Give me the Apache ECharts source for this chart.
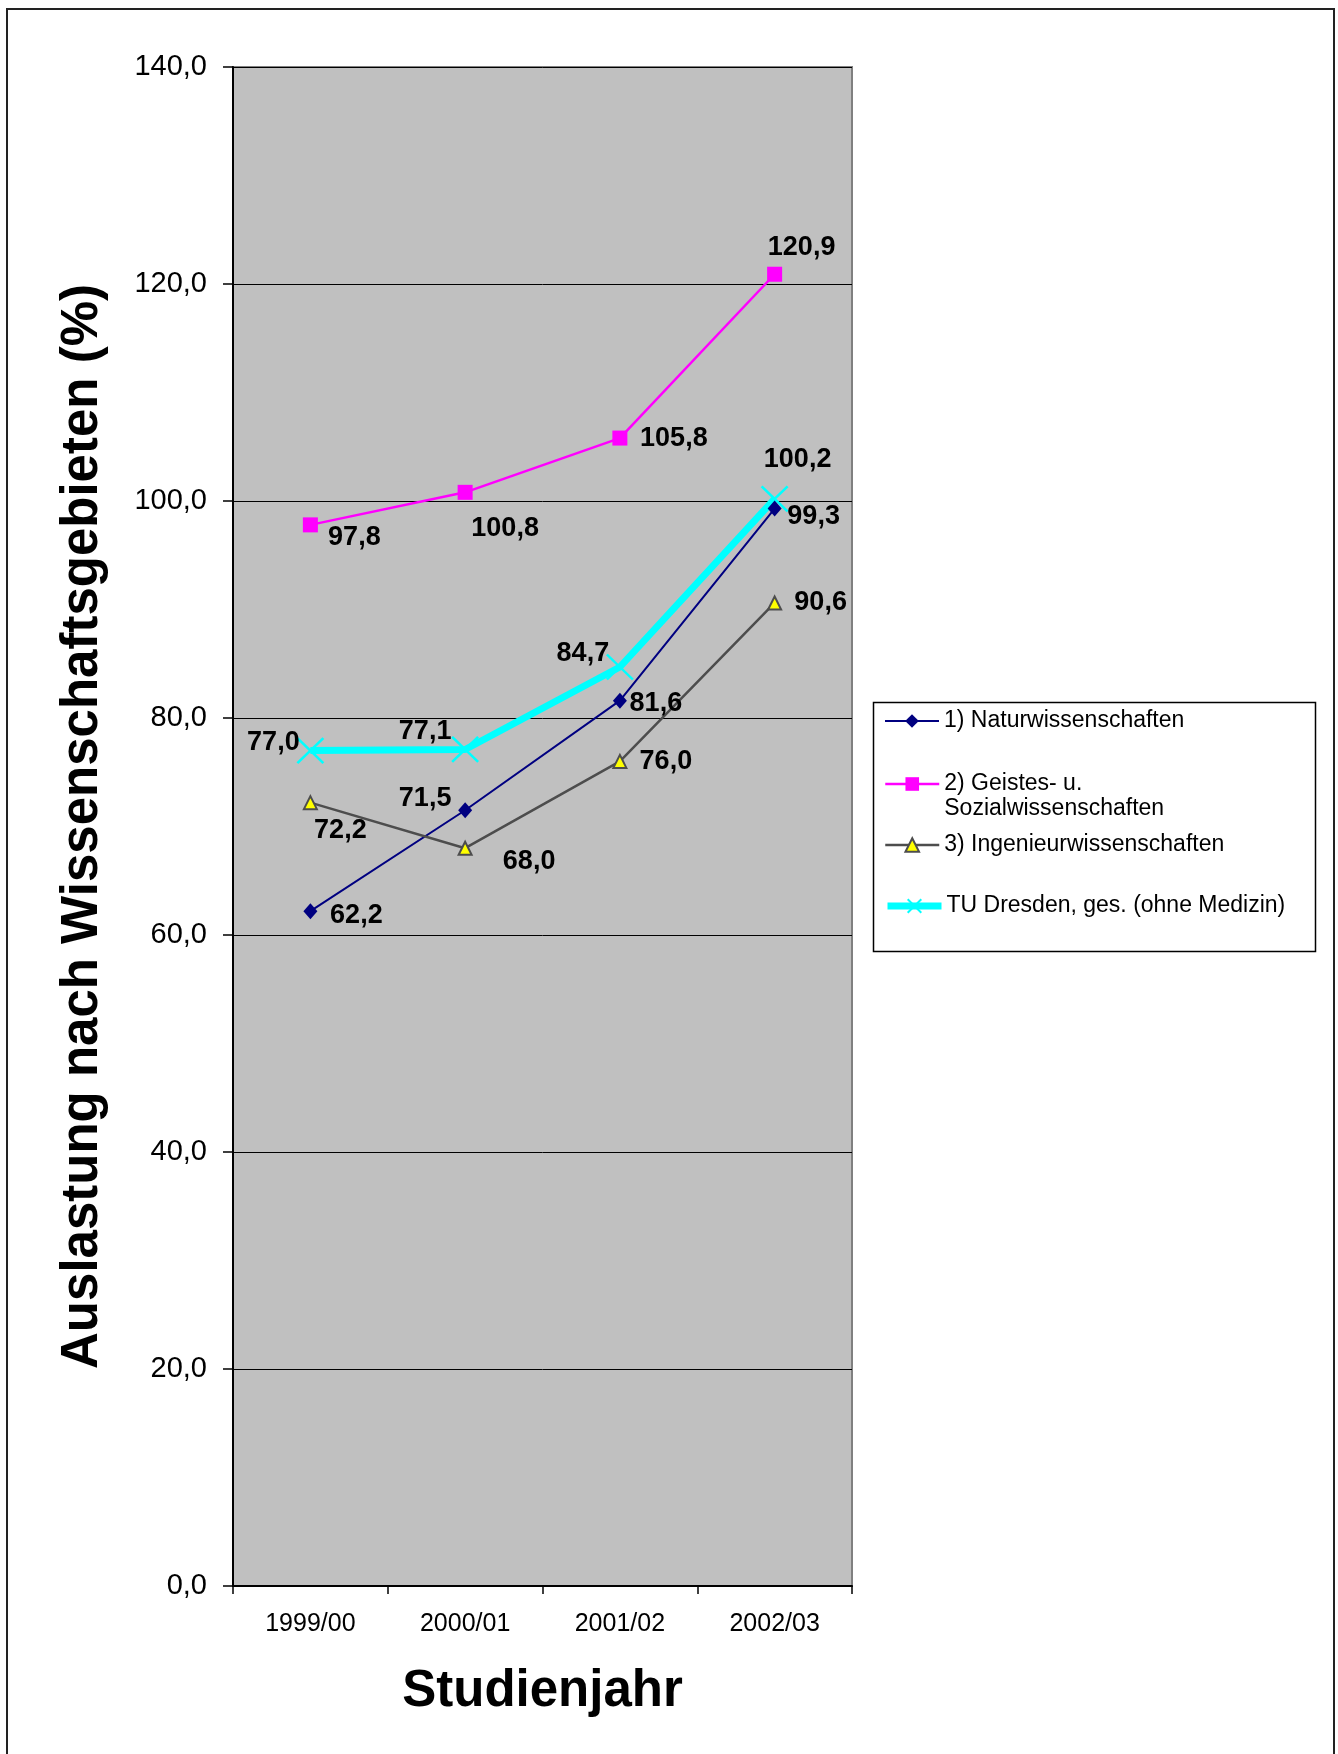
<!DOCTYPE html>
<html>
<head>
<meta charset="utf-8">
<script src="https://cdn.jsdelivr.net/npm/echarts@6/dist/echarts.min.js"></script>
<style>
html,body{margin:0;padding:0;background:#fff;}
#chart{width:1338px;height:1754px;}
</style>
</head>
<body>
<div id="chart"></div>
<script>
// ---- data ----
const categories = ['1999/00', '2000/01', '2001/02', '2002/03'];
const seriesNames = [
  '1) Naturwissenschaften',
  '2) Geistes- u. Sozialwissenschaften',
  '3) Ingenieurwissenschaften',
  'TU Dresden, ges. (ohne Medizin)'
];
const naturValues = [62.2, 71.5, 81.6, 99.3];
const geistesValues = [97.8, 100.8, 105.8, 120.9];
const ingenieurValues = [72.2, 68.0, 76.0, 90.6];
const tudValues = [77.0, 77.1, 84.7, 100.2];
const yTicks = [0, 20, 40, 60, 80, 100, 120, 140];
const yAxisTitle = 'Auslastung nach Wissenschaftsgebieten (%)';
const xAxisTitle = 'Studienjahr';

// ---- label placement (styling, not data) ----
const offsNatur = [[46,4],[-40,-12],[36,3],[39,8]];
const offsGeistes = [[44,13],[40,36],[54,0],[27,-27]];
const offsIng = [[30,28],[64,13],[46,0],[46,0]];
const offsTud = [[-37,-8],[-40,-18],[-37,-13],[23,-39]];

const FONT = '"Liberation Sans", Arial, sans-serif';
const fmt = v => Number(v).toFixed(1).replace('.', ',');

function items(vals, offs) {
  return vals.map((v, i) => ({
    value: v,
    label: { offset: offs[i] }
  }));
}
const baseLabel = {
  show: true,
  position: 'inside',
  color: '#000',
  fontFamily: FONT,
  fontWeight: 'bold',
  fontSize: 27,
  formatter: p => fmt(p.value)
};

const chart = echarts.init(document.getElementById('chart'), null, {renderer: 'canvas'});

const legendCommon = {
  orient: 'vertical',
  left: 884,
  padding: 0,
  itemWidth: 54,
  itemHeight: 17,
  itemGap: 0,
  lineStyle: { width: 'inherit' },
  textStyle: { fontFamily: FONT, fontSize: 23, color: '#000', lineHeight: 25 },
  selectedMode: false
};

const option = {
  animation: false,
  backgroundColor: '#fff',
  grid: {
    left: 233, top: 67, width: 619, height: 1519,
    show: true, backgroundColor: '#C0C0C0', borderColor: '#808080', borderWidth: 2
  },
  legend: [
    Object.assign({}, legendCommon, { top: 708.5, data: [seriesNames[0]] }),
    Object.assign({}, legendCommon, {
      top: 746.5, data: [seriesNames[1]],
      formatter: () => ' \n2) Geistes- u.\nSozialwissenschaften'
    }),
    Object.assign({}, legendCommon, { top: 832.5, data: [seriesNames[2]] }),
    Object.assign({}, legendCommon, { top: 893.5, data: [seriesNames[3]] })
  ],
  xAxis: {
    type: 'category',
    data: categories,
    boundaryGap: true,
    axisLine: { lineStyle: { color: '#000', width: 2 } },
    axisTick: { show: true, length: 8, lineStyle: { color: '#000', width: 1.5 } },
    axisLabel: { fontFamily: FONT, fontSize: 25, color: '#000', margin: 26 },
    name: xAxisTitle,
    nameLocation: 'middle',
    nameGap: 80,
    nameTextStyle: { fontFamily: FONT, fontSize: 51, fontWeight: 'bold', color: '#000' },
    splitLine: { show: false }
  },
  yAxis: {
    type: 'value',
    min: yTicks[0],
    max: yTicks[yTicks.length - 1],
    interval: yTicks[1] - yTicks[0],
    axisLine: { show: true, lineStyle: { color: '#000', width: 2 } },
    axisTick: { show: true, length: 10, lineStyle: { color: '#000', width: 1.5 } },
    axisLabel: { fontFamily: FONT, fontSize: 29, color: '#000', margin: 26, formatter: v => fmt(v) },
    splitLine: { show: true, lineStyle: { color: '#000', width: 1 } },
    name: yAxisTitle,
    nameLocation: 'middle',
    nameRotate: 90,
    nameGap: 125,
    nameTextStyle: { fontFamily: FONT, fontSize: 51, fontWeight: 'bold', color: '#000' }
  },
  series: [
    {
      name: seriesNames[3], type: 'line', z: 1,
      data: items(tudValues, offsTud),
      symbol: 'path://M0,0L26,25M26,0L0,25',
      symbolSize: [26, 25],
      lineStyle: { color: '#00FFFF', width: 7 },
      itemStyle: { color: '#00FFFF', borderColor: '#00FFFF', borderWidth: 2.5 },
      label: baseLabel
    },
    {
      name: seriesNames[0], type: 'line', z: 3,
      data: items(naturValues, offsNatur),
      symbol: 'diamond', symbolSize: [14, 16],
      lineStyle: { color: '#000080', width: 2 },
      itemStyle: { color: '#000080', borderWidth: 0 },
      label: baseLabel
    },
    {
      name: seriesNames[1], type: 'line', z: 3,
      data: items(geistesValues, offsGeistes),
      symbol: 'rect', symbolSize: 15,
      lineStyle: { color: '#FF00FF', width: 2.5 },
      itemStyle: { color: '#FF00FF', borderWidth: 0 },
      label: baseLabel
    },
    {
      name: seriesNames[2], type: 'line', z: 3,
      data: items(ingenieurValues, offsIng),
      symbol: 'triangle', symbolSize: 13,
      lineStyle: { color: '#4D4D4D', width: 2.5 },
      itemStyle: { color: '#FFFF00', borderColor: '#4D4D4D', borderWidth: 2 },
      label: baseLabel
    }
  ],
  graphic: [
    {
      type: 'rect', z: 100, silent: true,
      shape: { x: 7, y: 9, width: 1327, height: 1770 },
      style: { fill: 'none', stroke: '#222', lineWidth: 2 }
    },
    {
      type: 'rect', z: -1, silent: true,
      shape: { x: 873.5, y: 702.5, width: 442, height: 249 },
      style: { fill: '#fff', stroke: '#000', lineWidth: 1.5 }
    }
  ]
};
chart.setOption(option);
</script>
</body>
</html>
